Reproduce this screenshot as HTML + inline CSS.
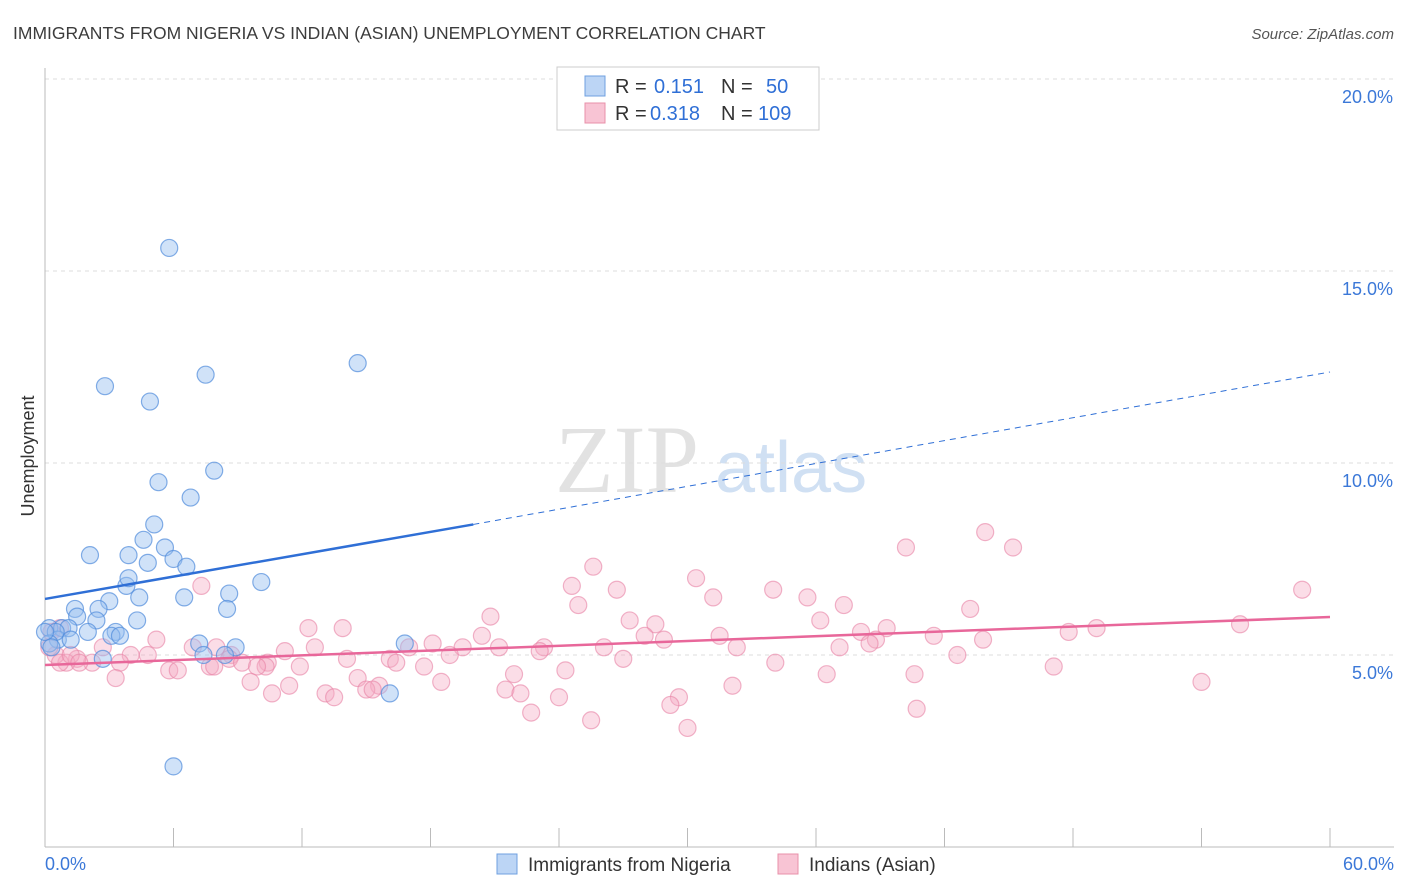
<!DOCTYPE html>
<html><head><meta charset="utf-8"><style>
body{margin:0;background:#fff;font-family:"Liberation Sans",sans-serif;}
svg{display:block}
</style></head><body>
<svg id="chart" width="1406" height="892" xmlns="http://www.w3.org/2000/svg">
<text x="13" y="39" font-size="17.5" fill="#3c3c3c">IMMIGRANTS FROM NIGERIA VS INDIAN (ASIAN) UNEMPLOYMENT CORRELATION CHART</text>
<text x="1394" y="39" font-size="15" fill="#555" font-style="italic" text-anchor="end">Source: ZipAtlas.com</text>
<text x="555" y="492" font-size="96" fill="#e2e2e2" font-family="Liberation Serif">ZIP</text>
<text x="715" y="492" font-size="72" fill="#d0e0f3">atlas</text>
<text transform="translate(34,456) rotate(-90)" font-size="18" fill="#333" text-anchor="middle">Unemployment</text>
<g id="grid"></g><g id="pts"></g><g id="trend"></g>
<g>
<rect x="557" y="67" width="262" height="63" fill="#fff" stroke="#ccc"/>
<rect x="585" y="76" width="20" height="20" fill="#bcd5f5" stroke="#6fa0e0"/>
<rect x="585" y="103" width="20" height="20" fill="#f8c4d4" stroke="#e890aa"/>
<text y="93" font-size="20" fill="#333"><tspan x="615">R =</tspan><tspan x="654" fill="#2f6fd6">0.151</tspan><tspan x="721">N =</tspan><tspan x="766" fill="#2f6fd6">50</tspan></text>
<text y="120" font-size="20" fill="#333"><tspan x="615">R =</tspan><tspan x="650" fill="#2f6fd6">0.318</tspan><tspan x="721">N =</tspan><tspan x="758" fill="#2f6fd6">109</tspan></text>
</g>
<g>
<rect x="497" y="854" width="20" height="20" fill="#bcd5f5" stroke="#6fa0e0"/>
<text x="528" y="871" font-size="19" fill="#333">Immigrants from Nigeria</text>
<rect x="778" y="854" width="20" height="20" fill="#f8c4d4" stroke="#e890aa"/>
<text x="809" y="871" font-size="19" fill="#333">Indians (Asian)</text>
</g>
</svg>
<script>
const yTicks=[5,10,15,20];
const xTickLabels=["0.0%","60.0%"];
const blueX=[5.8,14.6,2.8,7.5,4.9,7.9,5.3,6.8,5.1,2.1,3.9,4.6,5.6,6.0,4.8,6.6,10.1,3.8,3.9,8.6,4.4,6.5,3.0,8.5,1.4,2.5,1.5,4.3,2.4,0.2,0.8,1.1,2.0,3.3,3.1,3.5,0.6,0.5,1.2,7.2,8.9,8.4,7.4,2.7,16.8,16.1,6.0,0.2,0.0,0.3];
const blueY=[15.6,12.6,12.0,12.3,11.6,9.8,9.5,9.1,8.4,7.6,7.6,8.0,7.8,7.5,7.4,7.3,6.9,6.8,7.0,6.6,6.5,6.5,6.4,6.2,6.2,6.2,6.0,5.9,5.9,5.7,5.7,5.7,5.6,5.6,5.5,5.5,5.4,5.6,5.4,5.3,5.2,5.0,5.0,4.9,5.3,4.0,2.1,5.3,5.6,5.2];
const pinkX=[43.9,40.2,45.2,25.6,30.4,24.6,26.7,34.0,35.6,58.7,31.2,7.3,24.9,20.8,37.3,43.2,27.3,55.8,36.2,28.5,39.3,49.1,47.8,38.1,12.3,13.9,20.4,31.5,28.0,28.9,38.8,41.5,43.8,38.5,5.2,8.0,6.9,23.3,26.1,21.2,18.1,17.0,19.5,11.2,12.6,23.1,32.3,37.1,18.9,4.0,4.8,8.7,27.0,42.6,8.6,16.1,10.4,9.2,16.4,14.1,3.5,2.2,1.5,1.0,0.5,0.7,2.7,10.3,9.9,11.9,17.7,7.7,7.9,21.9,24.3,34.1,47.1,5.8,6.2,3.3,14.6,9.6,11.4,15.6,15.0,15.3,18.5,13.1,10.6,13.5,21.5,22.2,36.5,40.6,54.0,32.1,24.0,29.6,29.2,22.7,40.7,25.5,30.0,0.3,0.2,1.2,1.6,0.7];
const pinkY=[8.2,7.8,7.8,7.3,7.0,6.8,6.7,6.7,6.5,6.7,6.5,6.8,6.3,6.0,6.3,6.2,5.9,5.8,5.9,5.8,5.7,5.7,5.6,5.6,5.7,5.7,5.5,5.5,5.5,5.4,5.4,5.5,5.4,5.3,5.4,5.2,5.2,5.2,5.2,5.2,5.3,5.2,5.2,5.1,5.2,5.1,5.2,5.2,5.0,5.0,5.0,5.0,4.9,5.0,4.9,4.9,4.8,4.8,4.8,4.9,4.8,4.8,4.9,4.8,5.0,4.8,5.2,4.7,4.7,4.7,4.7,4.7,4.7,4.5,4.6,4.8,4.7,4.6,4.6,4.4,4.4,4.3,4.2,4.2,4.1,4.1,4.3,4.0,4.0,3.9,4.1,4.0,4.5,4.5,4.3,4.2,3.9,3.9,3.7,3.5,3.6,3.3,3.1,5.6,5.2,5.0,4.8,5.7];
const X0=45,X1=1330,YB=847,PPY=38.4;
const sx=v=>X0+v/60*(X1-X0), sy=v=>YB-v*PPY;
const NS="http://www.w3.org/2000/svg";
function mk(t,a,p){const e=document.createElementNS(NS,t);for(const k in a)e.setAttribute(k,a[k]);p.appendChild(e);return e;}
const g=document.getElementById('grid');
yTicks.forEach(v=>{
 const l=mk('line',{x1:45,x2:1394,y1:sy(v),y2:sy(v),stroke:'#ddd','stroke-dasharray':'4,4'},g);
 
 
 const t=mk('text',{x:1393,y:sy(v)+24,'font-size':18,fill:'#3b78d8','text-anchor':'end'},g);
 t.textContent=v.toFixed(1)+'%';
 
 
});
mk('line',{x1:45,x2:45,y1:68,y2:847,stroke:'#bbb'},g);
mk('line',{x1:45,x2:1394,y1:847,y2:847,stroke:'#bbb'},g);
for(let i=0;i<=10;i++){const x=sx(i*6);mk('line',{x1:x,x2:x,y1:828,y2:847,stroke:'#bbb'},g);}
xTickLabels.forEach((s,i)=>{const t=mk('text',{x:i?1394:45,y:870,'font-size':18,fill:'#3b78d8','text-anchor':i?'end':'start'},g);t.textContent=s;
 
 });
const p=document.getElementById('pts');
pinkX.forEach((v,i)=>{const c=mk('circle',{cx:sx(v),cy:sy(pinkY[i]),r:8.5,fill:'rgba(244,170,195,0.4)',stroke:'rgba(232,130,165,0.6)','stroke-width':1.2},p);
 
 });
blueX.forEach((v,i)=>{const c=mk('circle',{cx:sx(v),cy:sy(blueY[i]),r:8.5,fill:'rgba(150,190,240,0.45)',stroke:'rgba(80,140,220,0.7)','stroke-width':1.2},p);
 
 });
const tr=document.getElementById('trend');
let l=mk('line',{x1:sx(0),y1:sy(6.46),x2:sx(20),y2:sy(8.4),stroke:'#2f6fd6','stroke-width':2.5},tr);


l=mk('line',{x1:sx(20),y1:sy(8.4),x2:sx(60),y2:sy(12.37),stroke:'#2f6fd6','stroke-width':1,'stroke-dasharray':'6,5'},tr);


l=mk('line',{x1:sx(0),y1:sy(4.74),x2:sx(60),y2:sy(5.99),stroke:'#e8679a','stroke-width':2.5},tr);


</script>
</body></html>
